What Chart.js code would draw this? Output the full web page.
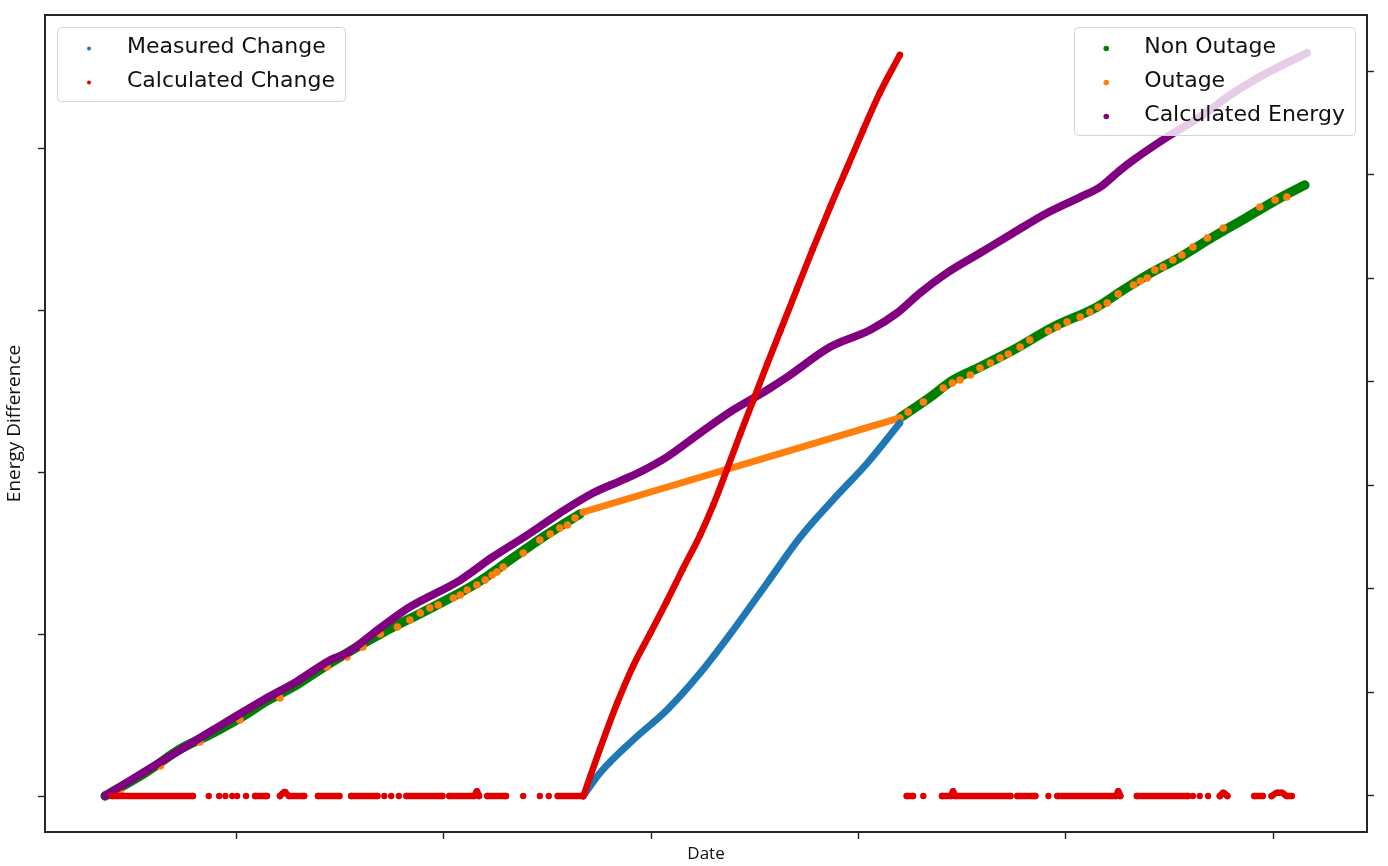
<!DOCTYPE html>
<html><head><meta charset="utf-8">
<script src="https://cdn.jsdelivr.net/npm/chart.js@4.4.1/dist/chart.umd.min.js"></script>
<style>html,body{margin:0;padding:0;background:#fff;overflow:hidden}canvas{display:block}</style>
</head><body>
<canvas id="c" width="1388" height="866"></canvas>
<script>
// ---- axis ranges & tick values (labels are hidden in the reference) ----
const xRange = [-8.7, 182.6];          // days
const xTickDays = [19, 49, 79, 109, 139, 169];
const leftRange = [-22.2, 482.1];
const leftTicks = [0, 100, 200, 300, 400];
const rightRange = [-34.8, 754.1];
const rightTicks = [0, 100, 200, 300, 400, 500, 600, 700];

// ---- series: [day, value]; null = gap ----
const measuredChange = [[69.2,0],[71.6,14.2],[76.4,34.6],[81.3,53.1],[86.1,75.9],[90.9,102.5],[95.8,131.5],[100.6,159.9],[105.3,182.7],[110.3,205.6],[115.0,230.3]];

const calculatedChange = [
 [1.0,0],[12.7,0],null,
 [15.0,0],null,[16.5,0],null,[17.4,0],null,[18.4,0],null,[19.1,0],null,[20.4,0],null,
 [21.7,0],[23.4,0],null,
 [25.3,0],[26.0,2.5],[26.6,0],[28.8,0],null,
 [30.8,0],[33.9,0],null,
 [35.6,0],[39.4,0],null,
 [40.4,0],null,[41.4,0],null,[42.5,0],null,
 [43.6,0],[48.8,0],null,
 [49.8,0],[53.4,0],[53.8,3.0],[54.1,0],null,
 [55.3,0],[58.0,0],null,
 [60.5,0],null,[62.9,0],null,[64.2,0],null,
 [65.5,0],[69.2,0],null,
 [69.2,0],[71.6,29.0],[74.1,57.4],[76.4,80.2],[78.9,100.6],[81.3,120.4],[83.6,140.2],[86.1,161.1],[88.0,179.6],[90.0,201.8],[91.9,223.4],[93.8,244.4],[95.8,266.6],[97.7,287.0],[100.1,312.9],[102.4,337.6],[104.9,363.5],[107.4,388.2],[109.7,411.1],[112.1,434.0],[115.0,457.4],null,
 [116.0,0],[116.9,0],null,[118.4,0],null,
 [121.1,0],[122.4,0],[122.7,3.0],[123.0,0],[131.0,0],null,
 [132.0,0],[134.6,0],null,[136.5,0],null,
 [137.8,0],[146.3,0],[146.6,3.0],[146.9,0],null,
 [149.3,0],[156.7,0],null,[157.4,0],null,[158.4,0],null,[159.6,0],null,
 [161.3,0],[161.8,2.0],[162.4,0],null,
 [166.3,0],[167.5,0],null,
 [168.8,0],[169.6,2.0],[170.3,2.0],[171.0,0],[171.7,0]
];

const nonOutage = [[0,0],[6.0,23.2],[10.9,45.4],[15.6,60.8],[20.5,79.2],[22.9,89.8],[27.7,107.2],[32.6,128.4],[39.8,156.4],[46.6,179.6],[53.8,205.7],[58.6,227.9],[63.4,250.1],[68.7,272.3],null,
 [115.0,365.0],[119.4,385.2],[122.7,401.6],[126.6,414.2],[131.4,430.6],[137.2,452.8],[143.5,472.1],[147.3,488.5],[150.8,503.0],[155.6,520.4],[160.3,539.7],[165.3,559.0],[170.0,577.4],[173.6,589.9]];

const outage = [[2.2,2.9],[8.0,28.9],[13.7,52.1],[19.5,73.4],[25.3,94.6],[32.1,124.5],[35.0,134.2],[37.3,143.9],[39.8,156.4],[42.3,163.2],[44.1,169.9],[45.6,176.7],[47.0,181.5],[48.2,184.4],[50.4,191.2],[51.4,194.1],[52.4,198.9],[53.8,203.7],[55.0,208.5],[56.0,213.4],[56.7,216.3],[57.6,221.1],[60.5,234.6],[62.9,247.2],[64.4,253.0],[65.8,258.8],[66.9,261.7],[68.0,268.4],
 [69.2,274.2],[115.0,365.0],
 [116.2,370.8],[118.4,380.4],[121.3,393.9],[122.6,398.8],[123.7,401.6],[125.2,406.5],[126.6,413.2],[128.1,418.1],[129.5,422.9],[130.7,426.8],[132.4,433.5],[133.8,440.3],[136.5,449.0],[137.8,452.8],[139.2,457.6],[141.1,462.5],[142.5,467.3],[143.7,472.1],[145.0,476.0],[146.6,484.7],[148.8,493.4],[149.8,497.3],[150.8,500.1],[151.9,507.9],[153.1,510.8],[154.5,517.5],[155.8,522.3],[157.4,530.1],[159.5,538.8],[161.8,548.4],[167.1,568.7],[169.3,575.5],[171.0,578.3]];

const calculatedEnergy = [[0,0],[6.0,24.6],[15.6,63.7],[22.9,92.7],[27.7,110.4],[32.6,131.3],[35.0,138.1],[39.8,162.2],[44.1,182.5],[51.4,208.5],[56.1,230.8],[61.1,252.0],[65.8,273.2],[70.6,292.5],[74.5,304.1],[77.4,312.8],[81.3,327.3],[86.1,350.5],[90.9,372.7],[95.8,392.0],[98.7,404.5],[104.9,433.5],[110.7,449.9],[114.6,466.3],[117.9,485.6],[121.8,505.0],[126.6,524.3],[131.4,543.6],[136.3,562.9],[141.1,578.3],[144.0,588.0],[146.9,604.4],[148.8,614.1],[153.7,636.3],[158.4,655.6],[163.2,678.7],[168.1,698.1],[173.9,717.4]];

// ---- helpers ----
function toPoints(list){
  const out=[]; let lastX=0;
  list.forEach(p=>{ if(p===null){ out.push({x:lastX,y:null}); } else { out.push({x:p[0],y:p[1]}); lastX=p[0]; } });
  return out;
}
const BLUE='#1f77b4', RED='#e00000', GREEN='#008000', ORANGE='#ff7f0e', PURPLE='#800080';

const datasets = [
  {label:'Measured Change', data:toPoints(measuredChange), yAxisID:'y', order:1,
   borderColor:BLUE, borderWidth:7, pointRadius:0, cubicInterpolationMode:'monotone',
   legendSide:'left', legendColor:BLUE, legendDot:2},
  {label:'Calculated Change', data:toPoints(calculatedChange), yAxisID:'y', order:0,
   borderColor:RED, borderWidth:6.5, pointRadius:3.2, pointBackgroundColor:RED, pointBorderWidth:0,
   cubicInterpolationMode:'monotone',
   legendSide:'left', legendColor:RED, legendDot:2},
  {label:'Non Outage', data:toPoints(nonOutage), yAxisID:'y2', order:4,
   borderColor:GREEN, borderWidth:9.5, pointRadius:0, cubicInterpolationMode:'monotone',
   legendSide:'right', legendColor:GREEN, legendDot:2.8},
  {label:'Outage', data:toPoints(outage), yAxisID:'y2', order:3,
   borderColor:ORANGE, borderWidth:7, pointRadius:3.8, pointBackgroundColor:ORANGE, pointBorderWidth:0,
   segment:{borderColor: c => (c.p1.parsed.x - c.p0.parsed.x > 20 ? ORANGE : 'rgba(0,0,0,0)')},
   legendSide:'right', legendColor:ORANGE, legendDot:2.8},
  {label:'Calculated Energy', data:toPoints(calculatedEnergy), yAxisID:'y2', order:2,
   borderColor:PURPLE, borderWidth:8, pointRadius:0, cubicInterpolationMode:'monotone',
   legendSide:'right', legendColor:PURPLE, legendDot:2.8}
];
datasets.forEach(d=>{ d.borderCapStyle='round'; d.borderJoinStyle='round'; d.spanGaps=false; d.fill=false; });

function roundRectPath(ctx,x,y,w,h,r){
  ctx.beginPath(); ctx.moveTo(x+r,y);
  ctx.arcTo(x+w,y,x+w,y+h,r); ctx.arcTo(x+w,y+h,x,y+h,r);
  ctx.arcTo(x,y+h,x,y,r); ctx.arcTo(x,y,x+w,y,r); ctx.closePath();
}

const overlay = {
  id:'overlay',
  afterDatasetsDraw(chart){
    const ctx=chart.ctx, a=chart.chartArea;
    ['left','right'].forEach(side=>{
      const items = chart.data.datasets.filter(d=>d.legendSide===side);
      ctx.save();
      ctx.font='22px "DejaVu Sans"';
      const maxW = Math.max(...items.map(d=>ctx.measureText(d.label).width));
      const w = 70+maxW+10, h = 19+34*(items.length-1)+21;
      const x = side==='left' ? a.left+12 : a.right-12-w;
      const y = a.top+12;
      roundRectPath(ctx,Math.round(x)+0.5,y+0.5,Math.round(w),h,4);
      ctx.fillStyle='rgba(255,255,255,0.8)'; ctx.fill();
      ctx.strokeStyle='#d4d4d4'; ctx.lineWidth=1; ctx.stroke();
      items.forEach((d,i)=>{
        const cy = y+20+34*i;
        ctx.beginPath(); ctx.arc(x+32, cy+1.5, d.legendDot, 0, 2*Math.PI);
        ctx.fillStyle=d.legendColor; ctx.fill();
        ctx.fillStyle='#111'; ctx.textBaseline='middle'; ctx.textAlign='left';
        ctx.fillText(d.label, x+70, cy);
      });
      ctx.restore();
    });
  },
  afterDraw(chart){
    const ctx=chart.ctx, a=chart.chartArea;
    ctx.save(); ctx.strokeStyle='#262626'; ctx.lineWidth=2;
    ctx.strokeRect(a.left, a.top, a.right-a.left, a.bottom-a.top);
    ctx.restore();
  }
};

const tickGrid = {drawOnChartArea:false, drawTicks:true, tickLength:7, tickWidth:1.4, tickColor:'#222'};

Chart.defaults.font.family = 'Open Sans';
new Chart(document.getElementById('c'), {
  type:'line',
  data:{datasets},
  options:{
    responsive:false, animation:false, devicePixelRatio:1,
    layout:{padding:{top:15,left:0,right:0,bottom:0}, autoPadding:false},
    plugins:{legend:{display:false}, tooltip:{enabled:false}},
    events:[],
    scales:{
      x:{type:'linear', position:'bottom', min:xRange[0], max:xRange[1],
         afterBuildTicks:s=>{ s.ticks = xTickDays.map(v=>({value:v})); },
         afterFit:s=>{ s.height = 34; },
         ticks:{display:false}, grid:tickGrid, border:{display:false},
         title:{display:true, text:'Date', font:{family:'Open Sans', size:17}, color:'#111', padding:{top:0,bottom:2}}},
      y:{type:'linear', position:'left', min:leftRange[0], max:leftRange[1],
         afterBuildTicks:s=>{ s.ticks = leftTicks.map(v=>({value:v})); },
         afterFit:s=>{ s.width = 45; },
         ticks:{display:false}, grid:tickGrid, border:{display:false},
         title:{display:true, text:'Energy Difference', font:{family:'Open Sans', size:19}, color:'#111', padding:{top:3,bottom:0}}},
      y2:{type:'linear', position:'right', min:rightRange[0], max:rightRange[1],
         afterBuildTicks:s=>{ s.ticks = rightTicks.map(v=>({value:v})); },
         afterFit:s=>{ s.width = 21; },
         ticks:{display:false}, grid:tickGrid, border:{display:false}}
    }
  },
  plugins:[overlay]
});
</script>
</body></html>
